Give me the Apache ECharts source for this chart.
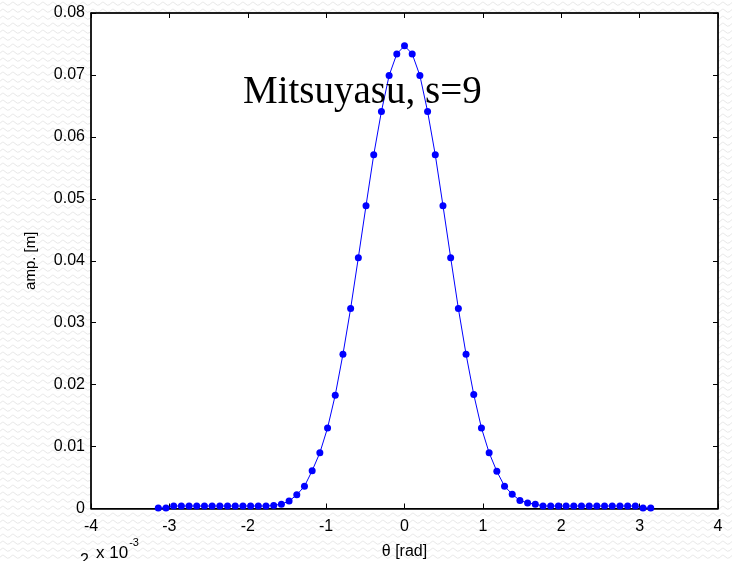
<!DOCTYPE html>
<html>
<head>
<meta charset="utf-8">
<script src="https://cdn.jsdelivr.net/npm/echarts@6/dist/echarts.min.js"></script>
<style>
html,body{margin:0;padding:0;background:#fff;}
#chart{width:732px;height:561px;}
</style>
</head>
<body>
<div id="chart"></div>
<script>
// Data
var thetaValues = [
  -3.1416, -3.0434, -2.9452, -2.8471, -2.7489, -2.6507, -2.5525, -2.4544,
  -2.3562, -2.2580, -2.1598, -2.0617, -1.9635, -1.8653, -1.7671, -1.6690,
  -1.5708, -1.4726, -1.3744, -1.2763, -1.1781, -1.0799, -0.9817, -0.8836,
  -0.7854, -0.6872, -0.5890, -0.4909, -0.3927, -0.2945, -0.1963, -0.0982,
  0,
  0.0982, 0.1963, 0.2945, 0.3927, 0.4909, 0.5890, 0.6872, 0.7854,
  0.8836, 0.9817, 1.0799, 1.1781, 1.2763, 1.3744, 1.4726, 1.5708,
  1.6690, 1.7671, 1.8653, 1.9635, 2.0617, 2.1598, 2.2580, 2.3562,
  2.4544, 2.5525, 2.6507, 2.7489, 2.8471, 2.9452, 3.0434, 3.1416
];
var ampValues = [
  0.0001, 0.0001, 0.0004, 0.0004, 0.0004, 0.0004, 0.0004, 0.0004,
  0.0004, 0.0004, 0.0004, 0.0004, 0.0004, 0.0004, 0.0004, 0.0005,
  0.0007, 0.0012, 0.0022, 0.0036, 0.0061, 0.0090, 0.0130, 0.0183,
  0.0249, 0.0323, 0.0405, 0.0489, 0.0571, 0.0641, 0.0699, 0.0734,
  0.0747,
  0.0734, 0.0699, 0.0641, 0.0571, 0.0489, 0.0405, 0.0323, 0.0249,
  0.0184, 0.0130, 0.0090, 0.0060, 0.0036, 0.0023, 0.0013, 0.0009,
  0.0007, 0.0004, 0.0004, 0.0004, 0.0004, 0.0004, 0.0004, 0.0004,
  0.0004, 0.0004, 0.0004, 0.0004, 0.0004, 0.0004, 0.0001, 0.0001
];
var xTicks = [-4, -3, -2, -1, 0, 1, 2, 3, 4];
var yTicks = [0, 0.01, 0.02, 0.03, 0.04, 0.05, 0.06, 0.07, 0.08];
var titleText = 'Mitsuyasu, s=9';
var xName = '\u03b8 [rad]';
var yName = 'amp. [m]';

var seriesData = thetaValues.map(function (t, i) { return [t, ampValues[i]]; });

// light wavy background pattern
var pat = document.createElement('canvas');
pat.width = 10; pat.height = 7;
var pc = pat.getContext('2d');
pc.fillStyle = '#ffffff';
pc.fillRect(0, 0, 10, 7);
pc.strokeStyle = '#e8e8e8';
pc.lineWidth = 1;
pc.beginPath();
pc.moveTo(0, 4.5);
pc.quadraticCurveTo(2.5, 0.5, 5, 3.5);
pc.quadraticCurveTo(7.5, 6.5, 10, 4.5);
pc.stroke();

var chart = echarts.init(document.getElementById('chart'), null, {renderer: 'canvas'});
var fontSans = 'Liberation Sans, Arial, Helvetica, sans-serif';
var tickCommon = {show: true, inside: true, length: 5, lineStyle: {color: '#000', width: 1}};
var lineCommon = {show: true, onZero: false, lineStyle: {color: '#000', width: 1.5}};

chart.setOption({
  animation: false,
  backgroundColor: {image: pat, repeat: 'repeat'},
  grid: {
    left: 91, right: 14, top: 13, bottom: 52.5,
    containLabel: false, outerBoundsMode: 'none',
    show: true, backgroundColor: '#ffffff', borderColor: '#000', borderWidth: 1
  },
  xAxis: [{
    type: 'value', min: xTicks[0], max: xTicks[xTicks.length - 1], interval: 1,
    position: 'bottom',
    name: xName, nameLocation: 'middle', nameGap: 35,
    nameTextStyle: {fontFamily: fontSans, fontSize: 16, color: '#000'},
    axisLine: lineCommon, axisTick: tickCommon,
    axisLabel: {fontFamily: fontSans, fontSize: 16, color: '#000', margin: 10},
    splitLine: {show: false}
  }, {
    type: 'value', min: xTicks[0], max: xTicks[xTicks.length - 1], interval: 1,
    position: 'top',
    axisLine: lineCommon, axisTick: tickCommon,
    axisLabel: {show: false}, splitLine: {show: false}
  }],
  yAxis: [{
    type: 'value', min: yTicks[0], max: yTicks[yTicks.length - 1], interval: 0.01,
    position: 'left',
    name: yName, nameLocation: 'middle', nameGap: 53,
    nameTextStyle: {fontFamily: fontSans, fontSize: 15, color: '#000'},
    axisLine: lineCommon, axisTick: tickCommon,
    axisLabel: {fontFamily: fontSans, fontSize: 16, color: '#000', margin: 6,
      formatter: function (v) { return v === 0 ? '0' : v.toFixed(2); }},
    splitLine: {show: false}
  }, {
    type: 'value', min: yTicks[0], max: yTicks[yTicks.length - 1], interval: 0.01,
    position: 'right',
    axisLine: lineCommon, axisTick: tickCommon,
    axisLabel: {show: false}, splitLine: {show: false}
  }],
  series: [{
    type: 'line',
    data: seriesData,
    xAxisIndex: 0, yAxisIndex: 0,
    symbol: 'circle', symbolSize: 7,
    showSymbol: true,
    itemStyle: {color: '#0000ff'},
    lineStyle: {color: '#0000ff', width: 1},
    z: 3
  }],
  graphic: [{
    type: 'text', left: 243, top: 73, z: 10,
    style: {text: titleText, fontFamily: 'Liberation Serif, Times New Roman, serif',
      fontSize: 39, fill: '#000'}
  }, {
    type: 'text', left: 96, top: 537, z: 10,
    style: {
      text: '{b|x 10}{s|-3}',
      rich: {
        b: {fontFamily: fontSans, fontSize: 17, fill: '#000', verticalAlign: 'bottom', padding: [8, 0, 0, 0]},
        s: {fontFamily: fontSans, fontSize: 11, fill: '#000', verticalAlign: 'top', padding: [0, 0, 9, 1]}
      }
    }
  }, {
    type: 'text', left: 80, top: 553, z: 10,
    style: {text: '2', fontFamily: fontSans, fontSize: 16, fill: '#000'}
  }]
});
</script>
</body>
</html>
